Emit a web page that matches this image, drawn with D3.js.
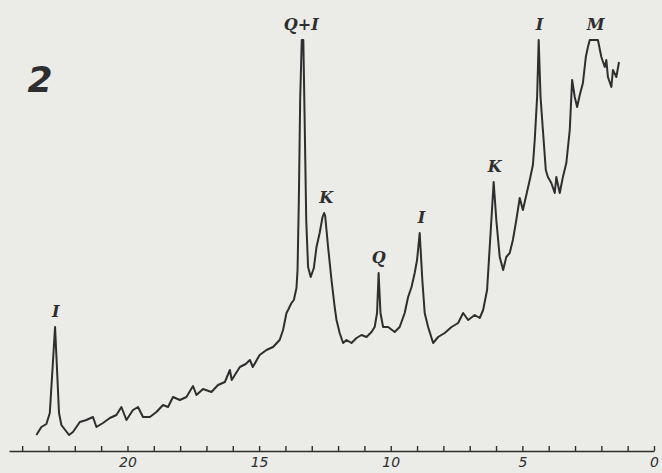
<!DOCTYPE html>
<html>
<head>
<meta charset="utf-8">
<script src="https://cdn.jsdelivr.net/npm/d3@7"></script>
<style>
  html, body { margin: 0; padding: 0; background: #ebebe8; }
  svg { display: block; }
</style>
</head>
<body>
<div id="chart"></div>
<script>
// diffractogram "2" - 2theta (deg) vs intensity (arbitrary)
var twoTheta = [23.46, 23.27, 23.08, 22.95, 22.75, 22.60, 22.51, 22.22, 22.07, 21.81,
  21.56, 21.31, 21.18, 20.93, 20.67, 20.42, 20.23, 20.04, 19.79, 19.60,
  19.41, 19.15, 18.90, 18.65, 18.46, 18.27, 18.01, 17.76, 17.51, 17.38,
  17.13, 16.81, 16.56, 16.30, 16.11, 16.04, 15.73, 15.51, 15.35, 15.24,
  14.98, 14.72, 14.47, 14.22, 14.09, 13.96, 13.90, 13.77, 13.68, 13.58,
  13.54, 13.49, 13.44, 13.38, 13.32, 13.27, 13.21, 13.14, 13.04, 12.92,
  12.82, 12.70, 12.59, 12.53, 12.49, 12.44, 12.38, 12.25, 12.13, 12.06,
  11.94, 11.81, 11.68, 11.49, 11.30, 11.11, 10.92, 10.73, 10.61, 10.52,
  10.46, 10.39, 10.29, 10.10, 9.85, 9.66, 9.47, 9.34, 9.21, 9.09,
  9.00, 8.90, 8.80, 8.71, 8.58, 8.39, 8.20, 7.95, 7.69, 7.44,
  7.25, 7.06, 6.81, 6.62, 6.49, 6.34, 6.24, 6.09, 5.99, 5.86,
  5.73, 5.61, 5.48, 5.36, 5.23, 5.10, 4.98, 4.85, 4.72, 4.60,
  4.53, 4.44, 4.38, 4.31, 4.22, 4.11, 4.03, 3.90, 3.77, 3.71,
  3.58, 3.46, 3.33, 3.20, 3.11, 3.01, 2.92, 2.82, 2.70, 2.59,
  2.51, 2.44, 2.13, 2.00, 1.87, 1.81, 1.75, 1.62, 1.56, 1.43, 1.33];

var intensity = [16, 24, 27, 38, 124, 38, 26, 16, 19, 29,
  31, 34, 24, 28, 33, 36, 44, 31, 41, 44,
  34, 34, 39, 46, 44, 54, 51, 54, 65, 56,
  62, 59, 66, 69, 81, 71, 84, 87, 91, 84,
  96, 101, 104, 111, 121, 138, 141, 148, 151, 163,
  181, 251, 351, 411, 411, 331, 231, 184, 174, 183,
  204, 218, 234, 238, 235, 221, 204, 171, 144, 131,
  118, 108, 111, 108, 113, 116, 114, 119, 124, 138,
  178, 138, 124, 124, 119, 124, 138, 154, 164, 178,
  191, 218, 171, 138, 124, 108, 114, 118, 124, 128,
  138, 131, 136, 133, 141, 161, 204, 269, 231, 194,
  181, 194, 198, 211, 231, 253, 241, 256, 271, 286,
  311, 354, 411, 354, 321, 281, 274, 268, 258, 274,
  258, 274, 288, 321, 371, 354, 344, 356, 368, 394,
  404, 411, 411, 394, 384, 391, 374, 364, 381, 374, 389];

// axis ticks and labels
var tickValues = d3.range(0, 25);
var tickLabels = [0, 5, 10, 15, 20];

// peak annotations
var peakNames = ["I", "Q+I", "K", "Q", "I", "K", "I", "M"];
var peakTheta = [22.72, 13.40, 12.45, 10.46, 8.83, 6.05, 4.35, 2.22];
var peakInt = [124, 411, 238, 178, 218, 269, 411, 411];

var svgWidth = 662;
var svgHeight = 473;
var ink = "#2e2e2e";

var svg = d3.select("#chart")
  .append("svg")
  .attr("width", svgWidth)
  .attr("height", svgHeight);

var x = d3.scaleLinear()
  .domain([24.5, 0])
  .range([9, 654]);

var y = d3.scaleLinear()
  .domain([0, 451])
  .range([451, 0]);

// x axis - ticks pointing up, labels every 5
var axis = d3.axisBottom(x)
  .tickValues(tickValues)
  .tickSize(-5)
  .tickSizeOuter(0)
  .tickPadding(6)
  .tickFormat(function (d) { return tickLabels.indexOf(d) >= 0 ? d : ""; });

var axisG = svg.append("g")
  .attr("transform", "translate(0," + y(0) + ")")
  .call(axis);

axisG.select(".domain").attr("stroke", ink).attr("stroke-width", 1.6);
axisG.selectAll(".tick line").attr("stroke", ink).attr("stroke-width", 1.4);
axisG.selectAll(".tick text")
  .attr("fill", ink)
  .attr("font-family", "DejaVu Sans, sans-serif")
  .attr("font-style", "italic")
  .attr("font-size", 14);

// the trace
var pts = twoTheta.map(function (t, i) { return [t, intensity[i]]; });

var line = d3.line()
  .x(function (d) { return x(d[0]); })
  .y(function (d) { return y(d[1]); });

svg.append("path")
  .datum(pts)
  .attr("d", line)
  .attr("fill", "none")
  .attr("stroke", ink)
  .attr("stroke-width", 2)
  .attr("stroke-linejoin", "round");

// peak labels
svg.selectAll(".peak")
  .data(peakNames)
  .enter()
  .append("text")
  .attr("class", "peak")
  .attr("x", function (d, i) { return x(peakTheta[i]); })
  .attr("y", function (d, i) { return y(peakInt[i]) - 10; })
  .attr("text-anchor", "middle")
  .attr("fill", ink)
  .attr("font-family", "DejaVu Serif, serif")
  .attr("font-style", "italic")
  .attr("font-weight", "bold")
  .attr("font-size", 16)
  .text(function (d) { return d; });

// panel number
svg.append("text")
  .attr("x", 40)
  .attr("y", 92)
  .attr("text-anchor", "middle")
  .attr("fill", ink)
  .attr("font-family", "DejaVu Sans, sans-serif")
  .attr("font-style", "italic")
  .attr("font-weight", "bold")
  .attr("font-size", 36)
  .text("2");
</script>
</body>
</html>
